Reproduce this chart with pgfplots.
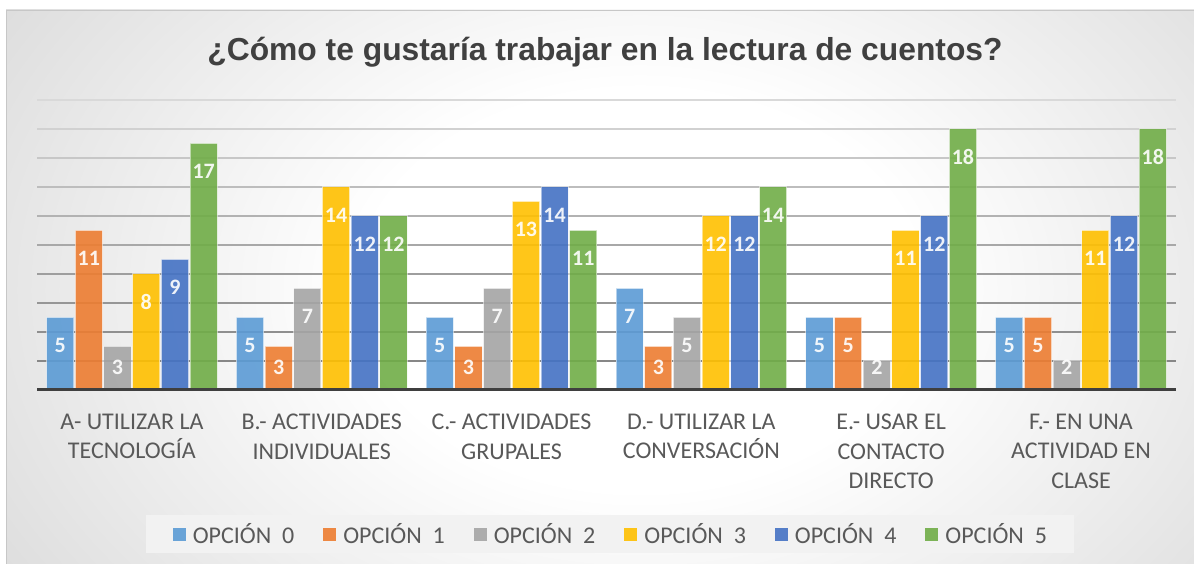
\documentclass[border=0pt]{standalone}
\usepackage{pgfplots}
\pgfplotsset{compat=1.18}
\usepackage{pgfplotstable}
\usepackage{fontspec}
\setmainfont{Carlito}
\newfontfamily\arialfont{Liberation Sans}
\newfontfamily\carlito{Carlito}

\definecolor{c0}{HTML}{5B9BD5}
\definecolor{c1}{HTML}{ED7D31}
\definecolor{c2}{HTML}{A5A5A5}
\definecolor{c3}{HTML}{FFC000}
\definecolor{c4}{HTML}{4472C4}
\definecolor{c5}{HTML}{70AD47}
\definecolor{titlec}{HTML}{404040}
\definecolor{labc}{HTML}{595959}
\definecolor{legbg}{HTML}{F2F2F2}
\definecolor{bgout}{HTML}{BFBFBF}
\definecolor{basec}{HTML}{3F3F3F}

\pgfdeclareradialshading{bgs}{\pgfpoint{0bp}{0bp}}{color(0bp)=(white); color(10bp)=(white); color(42bp)=(bgout); color(100bp)=(bgout)}

\pgfplotstableread{
x o0 o1 o2 o3 o4 o5
0 5 11 3 8 9 17
1 5 3 7 14 12 12
2 5 3 7 13 14 11
3 7 3 5 12 12 14
4 5 5 2 11 12 18
5 5 5 2 11 12 18
}\datatable

\begin{document}
\begin{tikzpicture}[x=1pt,y=1pt]
\useasboundingbox (0,0) rectangle (1194,564);
\fill[white] (0,0) rectangle (1194,564);
\begin{scope}
\clip (6,0) rectangle (1194,554);
\shade[shading=bgs] (-60,-226) rectangle (1340,774);
\end{scope}
\draw[black!22, line width=1pt] (6.5,0) -- (6.5,553.5) -- (1194,553.5);
\node[anchor=base, inner sep=0pt, text=titlec, font=\arialfont\bfseries\fontsize{31.8}{38}\selectfont] at (605,503) {¿Cómo te gustaría trabajar en la lectura de cuentos?};

\begin{axis}[
  at={(37pt,174pt)}, anchor=south west,
  scale only axis, width=1139pt, height=290pt,
  xmin=-0.5, xmax=5.5, ymin=0, ymax=20,
  ybar=1.5pt, bar width=27.2pt,
  axis line style={draw=none},
  ytick=\empty,
  xtick={0,1,2,3,4,5},
  xticklabels={{A- UTILIZAR LA\\TECNOLOGÍA},{B.- ACTIVIDADES\\INDIVIDUALES},{C.- ACTIVIDADES\\GRUPALES},{D.- UTILIZAR LA\\CONVERSACIÓN},{E.- USAR EL\\CONTACTO\\DIRECTO},{F.- EN UNA\\ACTIVIDAD EN\\CLASE}},
  major tick length=0pt,
  xtick style={draw=none},
  xticklabel style={align=center, anchor=north, inner sep=0pt, yshift=-24pt, text=labc, font=\carlito\fontsize{24}{29.3}\selectfont},
  clip=false,
  /pgf/number format/assume math mode=true,
  every node near coord/.append style={anchor=center, text=white, yshift=-28pt, font=\carlito\bfseries\fontsize{22}{22}\selectfont},
  legend columns=6,
  legend style={at={(0.503,-0.4966)}, anchor=center, draw=none, fill=legbg,
    inner xsep=27pt, inner ysep=8pt,
    text=labc, font=\carlito\fontsize{24}{28}\selectfont,
    nodes={inner sep=0pt},
    /tikz/every odd column/.append style={column sep=7pt},
    /tikz/every even column/.append style={column sep=29pt}},
  legend image code/.code={\fill[#1, draw=none] (0pt,-6.5pt) rectangle (13pt,6.5pt);},
]
\draw[black!15, line width=1.2pt] (axis cs:-0.5,20) -- (axis cs:5.5,20);
\draw[black!18, line width=1.2pt] (axis cs:-0.5,18) -- (axis cs:5.5,18);
\draw[black!22, line width=1.2pt] (axis cs:-0.5,16) -- (axis cs:5.5,16);
\draw[black!26, line width=1.2pt] (axis cs:-0.5,14) -- (axis cs:5.5,14);
\draw[black!30, line width=1.2pt] (axis cs:-0.5,12) -- (axis cs:5.5,12);
\draw[black!34, line width=1.2pt] (axis cs:-0.5,10) -- (axis cs:5.5,10);
\draw[black!38, line width=1.2pt] (axis cs:-0.5,8) -- (axis cs:5.5,8);
\draw[black!41, line width=1.2pt] (axis cs:-0.5,6) -- (axis cs:5.5,6);
\draw[black!44, line width=1.2pt] (axis cs:-0.5,4) -- (axis cs:5.5,4);
\draw[black!47, line width=1.2pt] (axis cs:-0.5,2) -- (axis cs:5.5,2);

\addplot[fill=c0, fill opacity=0.9, draw=white, draw opacity=0.5, line width=1pt, nodes near coords]
  table[x=x, y=o0]{\datatable};
\addlegendentry{OPCIÓN~~0}
\addplot[fill=c1, fill opacity=0.9, draw=white, draw opacity=0.5, line width=1pt, nodes near coords,
  coordinate style/.condition={y<4}{yshift=7.5pt}]
  table[x=x, y=o1]{\datatable};
\addlegendentry{OPCIÓN~~1}
\addplot[fill=c2, fill opacity=0.9, draw=white, draw opacity=0.5, line width=1pt, nodes near coords,
  coordinate style/.condition={y<2.5}{yshift=22pt},
  coordinate style/.condition={y>2.5 && y<3.5}{yshift=7.5pt}]
  table[x=x, y=o2]{\datatable};
\addlegendentry{OPCIÓN~~2}
\addplot[fill=c3, fill opacity=0.9, draw=white, draw opacity=0.5, line width=1pt, nodes near coords]
  table[x=x, y=o3]{\datatable};
\addlegendentry{OPCIÓN~~3}
\addplot[fill=c4, fill opacity=0.9, draw=white, draw opacity=0.5, line width=1pt, nodes near coords]
  table[x=x, y=o4]{\datatable};
\addlegendentry{OPCIÓN~~4}
\addplot[fill=c5, fill opacity=0.9, draw=white, draw opacity=0.5, line width=1pt, nodes near coords]
  table[x=x, y=o5]{\datatable};
\addlegendentry{OPCIÓN~~5}

\draw[basec, line width=3pt] (axis cs:-0.5,0) -- (axis cs:5.5,0);
\end{axis}
\end{tikzpicture}
\end{document}
